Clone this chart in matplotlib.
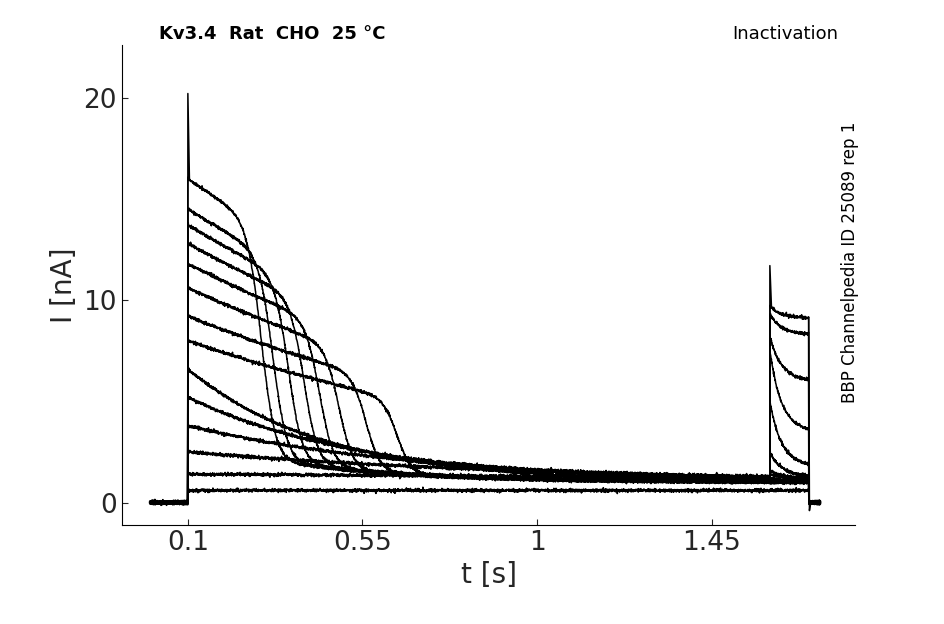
import numpy as np
import matplotlib
matplotlib.use("Agg")
import matplotlib.pyplot as plt

# per-sweep values (nA, s)
start_amp = [16.0, 14.5, 13.7, 12.8, 11.8, 10.6, 9.2, 8.0, 6.6, 5.2, 3.8, 2.5, 1.4, 0.6]
drop_time = [0.29, 0.32, 0.36, 0.40, 0.44, 0.49, 0.56, 0.64, 0.0, 0.0, 0.0, 0.0, 0.0, 0.0]
decay_tau = [0.0, 0.0, 0.0, 0.0, 0.0, 0.0, 0.0, 0.0, 0.35, 0.45, 0.6, 0.9, 3.0, 50.0]
end_amp = [1.0, 1.0, 1.0, 1.0, 1.0, 1.0, 1.0, 1.0, 1.0, 1.0, 1.0, 1.0, 1.0, 0.5]
pulse2_start = [9.7, 9.3, 8.2, 7.5, 5.0, 2.5, 1.6, 1.4, 1.2, 1.1, 1.1, 1.0, 1.0, 0.6]
pulse2_end = [9.1, 8.3, 6.0, 3.5, 1.8, 1.3, 1.2, 1.2, 1.1, 1.0, 1.0, 1.0, 1.0, 0.6]
spike_peaks = [20.2, 11.7]

t = np.linspace(0.0, 1.75, 3500)
rng = np.random.default_rng(1)

fig = plt.figure(figsize=(9.45, 6.24), dpi=100)
ax = fig.add_axes([0.129, 0.159, 0.776, 0.769])

for a, td, tau, e, p1, p2 in zip(start_amp, drop_time, decay_tau, end_amp,
                                 pulse2_start, pulse2_end):
    y = np.zeros_like(t)
    m1 = (t >= 0.1) & (t < 1.6)
    tt = t[m1] - 0.1
    if td > 0:
        plateau = a * np.exp(-tt / 1.2)
        sig = 1 / (1 + np.exp((tt - (td - 0.1)) / 0.018))
        tail = e + 2.0 * np.exp(-tt / 0.35)
        y[m1] = tail + (plateau - tail) * sig
        y[m1] = np.maximum(y[m1], e)
    else:
        y[m1] = e * (1 - np.exp(-tt / 0.05)) * 0 + e + (a - e) * np.exp(-tt / tau)
        if a < e:
            y[m1] = a
    m2 = (t >= 1.6) & (t < 1.7)
    t2 = t[m2] - 1.6
    y[m2] = p2 + (p1 - p2) * np.exp(-t2 / 0.03)
    y += rng.normal(0, 0.04, t.size)
    y[t < 0.002] = np.nan
    y[t > 1.73] = np.nan
    ax.plot(t, y, color="black", lw=1.1)

# capacitive spikes
ax.plot([0.1, 0.1, 0.104], [0, spike_peaks[0], 16], color="black", lw=1.1)
ax.plot([1.6, 1.6, 1.604], [1, spike_peaks[1], 9.7], color="black", lw=1.1)
ax.plot([1.7, 1.702, 1.705], [9.1, -0.4, 0], color="black", lw=1.1)

ax.set_xlim(-0.07, 1.82)
ax.set_ylim(-1.1, 22.6)
ax.set_xticks([0.1, 0.55, 1, 1.45])
ax.set_xticklabels(["0.1", "0.55", "1", "1.45"])
ax.set_yticks([0, 10, 20])
ax.tick_params(direction="in", labelsize=19, colors="#262626", length=4)
for s in ["top", "right"]:
    ax.spines[s].set_visible(False)
ax.set_xlabel("t [s]", fontsize=20, color="#262626")
ax.set_ylabel("I [nA]", fontsize=20, color="#262626")

fig.text(0.168, 0.938, "Kv3.4  Rat  CHO  25 °C", fontsize=13, fontweight="bold")
fig.text(0.887, 0.938, "Inactivation", fontsize=13, ha="right")
fig.text(0.9, 0.58, "BBP Channelpedia ID 25089 rep 1", fontsize=12,
         rotation=90, va="center", ha="center")

fig.savefig("out.png", dpi=100)
